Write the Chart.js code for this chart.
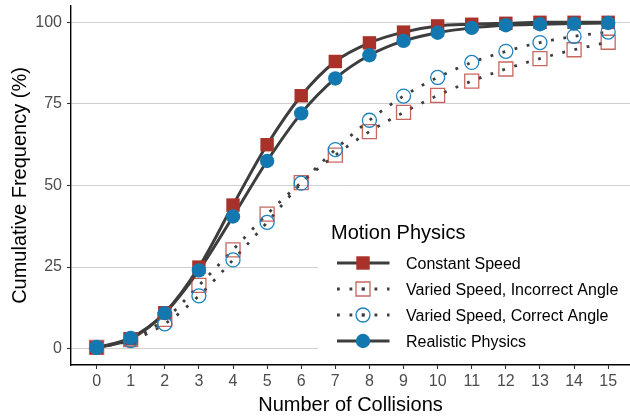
<!DOCTYPE html>
<html>
<head>
<meta charset="utf-8">
<script src="https://cdn.jsdelivr.net/npm/chart.js@4/dist/chart.umd.min.js"></script>
<style>
  html, body { margin: 0; padding: 0; background: #ffffff; }
  canvas { display: block; }
</style>
</head>
<body>
<canvas id="chart" width="630" height="417"></canvas>
<script>
// Number of collisions (x) and cumulative frequency in percent (y) per model
const collisions = [0, 1, 2, 3, 4, 5, 6, 7, 8, 9, 10, 11, 12, 13, 14, 15];
const constantSpeed   = [0.3, 3.0, 11.0, 25.0, 44.0, 62.5, 77.5, 88.0, 93.7, 97.0, 98.9, 99.4, 99.7, 100, 100, 100];
const variedIncorrect = [0.4, 2.8, 9.0, 19.4, 30.3, 41.2, 50.9, 59.3, 66.5, 72.4, 77.6, 82.0, 85.7, 88.9, 91.6, 93.9];
const variedCorrect   = [0.4, 2.5, 7.6, 16.2, 27.2, 38.7, 50.7, 61.0, 70.0, 77.4, 83.1, 87.7, 91.1, 93.8, 95.7, 97.0];
const realistic       = [0.3, 3.3, 10.9, 24.0, 40.5, 57.5, 72.1, 82.8, 89.9, 94.3, 96.8, 98.3, 99.1, 99.4, 99.6, 99.8];
const seriesNames = ['Constant Speed', 'Varied Speed, Incorrect Angle', 'Varied Speed, Correct Angle', 'Realistic Physics'];
const yTicks = [0, 25, 50, 75, 100];
const legendTitle = 'Motion Physics';
const xTitle = 'Number of Collisions';
const yTitle = 'Cumulative Frequency (%)';

const FONT = '"Liberation Sans", Arial, Helvetica, sans-serif';
const LINE = '#3d3d3d';
const RED = '#a8322a';
const BLUE = '#1478b0';
const DOT = [2.8, 9.7];

const toXY = vals => vals.map((v, i) => ({ x: collisions[i], y: v }));

const styles = [
  { dash: [],  style: 'rect',   radius: 9.5, fill: RED,  stroke: RED,  bw: 0 },
  { dash: DOT, style: 'rect',   radius: 9.9, fill: 'rgba(0,0,0,0)', stroke: 'rgba(178,52,42,0.75)', bw: 1.3 },
  { dash: DOT, style: 'circle', radius: 7,   fill: 'rgba(0,0,0,0)', stroke: '#1d82bb', bw: 1.3 },
  { dash: [],  style: 'circle', radius: 7.2, fill: BLUE, stroke: BLUE, bw: 0 }
];
const seriesValues = [constantSpeed, variedIncorrect, variedCorrect, realistic];

// all connecting lines first, then the markers on top of them
const lineSets = seriesValues.map((vals, i) => ({
  label: seriesNames[i] + ' line',
  data: toXY(vals),
  borderColor: LINE,
  borderWidth: styles[i].dash.length ? 2.8 : 3,
  borderDash: styles[i].dash,
  borderCapStyle: 'butt',
  cubicInterpolationMode: 'monotone',
  pointRadius: 0,
  fill: false,
  order: 20 + i
}));
const pointSets = seriesValues.map((vals, i) => ({
  label: seriesNames[i],
  data: toXY(vals),
  showLine: false,
  pointStyle: styles[i].style,
  pointRadius: styles[i].radius,
  pointBackgroundColor: styles[i].fill,
  pointBorderColor: styles[i].stroke,
  pointBorderWidth: styles[i].bw,
  order: 4 - i
}));

// ggplot-style legend inside the panel, drawn on a white box
const panelLegend = {
  id: 'panelLegend',
  afterDraw(chart) {
    const ctx = chart.ctx;
    const area = chart.chartArea;
    ctx.save();
    ctx.fillStyle = '#ffffff';
    ctx.fillRect(318, 208, area.right - 318, area.bottom - 208 - 1);

    ctx.fillStyle = '#000000';
    ctx.textBaseline = 'alphabetic';
    ctx.textAlign = 'left';
    ctx.font = '20px ' + FONT;
    ctx.fillText(legendTitle, 331, 238.5);

    ctx.font = '16px ' + FONT;
    seriesNames.forEach((name, i) => {
      const cy = 263 + i * 26;
      const s = styles[i];
      // key line
      ctx.strokeStyle = LINE;
      ctx.lineWidth = s.dash.length ? 2.8 : 3;
      ctx.setLineDash(s.dash);
      ctx.lineDashOffset = 0;
      ctx.beginPath();
      ctx.moveTo(337, cy);
      ctx.lineTo(389.5, cy);
      ctx.stroke();
      ctx.setLineDash([]);
      // key marker
      const mx = 363;
      ctx.beginPath();
      if (s.style === 'rect') {
        const h = s.radius * Math.SQRT1_2;
        ctx.rect(mx - h, cy - h, 2 * h, 2 * h);
      } else {
        ctx.arc(mx, cy, s.radius, 0, Math.PI * 2);
      }
      ctx.fillStyle = s.fill;
      ctx.fill();
      if (s.bw > 0) {
        ctx.lineWidth = s.bw;
        ctx.strokeStyle = s.stroke;
        ctx.stroke();
        // the dotted line shows through the hollow marker
        ctx.fillStyle = LINE;
        ctx.fillRect(mx - 1.4, cy - 1.4, 2.8, 2.8);
      }
      ctx.fillStyle = '#000000';
      ctx.fillText(name, 406, cy + 6);
    });
    ctx.restore();
  }
};

new Chart(document.getElementById('chart'), {
  type: 'line',
  data: { datasets: [...lineSets, ...pointSets] },
  options: {
    responsive: false,
    animation: false,
    events: [],
    layout: { autoPadding: false, padding: { top: 6, right: 0, bottom: 0, left: 0 } },
    plugins: { legend: { display: false }, tooltip: { enabled: false } },
    scales: {
      x: {
        type: 'linear',
        min: -0.75,
        max: 15.64,
        afterFit(scale) {
          scale.height = 52;
          scale.paddingLeft = 0;
          scale.paddingRight = 0;
        },
        afterBuildTicks(scale) { scale.ticks = collisions.map(v => ({ value: v })); },
        grid: { drawOnChartArea: false, color: 'rgba(0,0,0,0)', tickColor: '#333333', tickLength: 4, tickWidth: 1.1 },
        border: { display: true, color: '#000000', width: 1.4 },
        ticks: { color: '#4d4d4d', font: { family: FONT, size: 16 }, padding: 3, maxRotation: 0, autoSkip: false },
        title: { display: true, text: xTitle, color: '#000000', font: { family: FONT, size: 20 }, padding: { top: 5, bottom: 0 } }
      },
      y: {
        type: 'linear',
        min: -5,
        max: 105,
        afterFit(scale) {
          scale.width = 71;
          scale.paddingTop = 0;
          scale.paddingBottom = 0;
        },
        afterBuildTicks(scale) { scale.ticks = yTicks.map(v => ({ value: v })); },
        grid: { color: '#cfcfcf', lineWidth: 1, tickColor: '#333333', tickLength: 4, tickWidth: 1.1 },
        border: { display: true, color: '#000000', width: 1.4 },
        ticks: { color: '#4d4d4d', font: { family: FONT, size: 16 }, padding: 5 },
        title: { display: true, text: yTitle, color: '#000000', font: { family: FONT, size: 20 }, padding: { top: 8, bottom: 0 } }
      }
    }
  },
  plugins: [panelLegend]
});
</script>
</body>
</html>
